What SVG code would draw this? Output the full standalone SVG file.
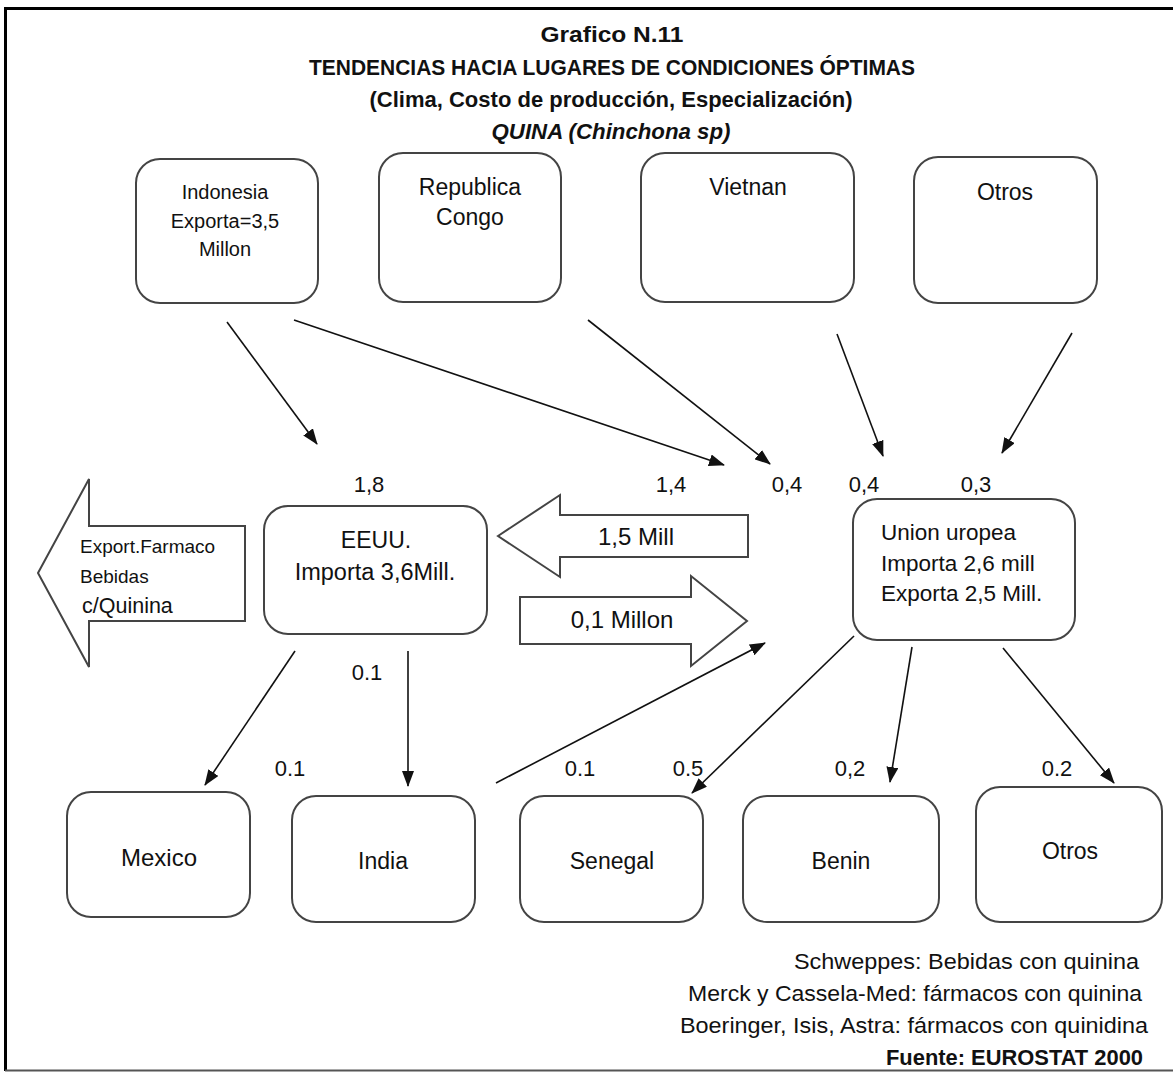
<svg xmlns="http://www.w3.org/2000/svg" width="1173" height="1072" viewBox="0 0 1173 1072">
<defs>
<style>
text{font-family:"Liberation Sans",Arial,sans-serif;fill:#111;}
.t{font-weight:bold;text-anchor:middle;font-size:22px;}
.c{text-anchor:middle;}
.box{fill:#fff;stroke:#444;stroke-width:2;}
.big{fill:#fff;stroke:#444;stroke-width:2;stroke-linejoin:miter;}
.ln{stroke:#111;stroke-width:1.6;fill:none;marker-end:url(#ah);}
.lbl{font-size:22px;text-anchor:middle;}
.n20{font-size:20px;}
.n23{font-size:23px;}
.fn{font-size:22.5px;text-anchor:end;}
</style>
<marker id="ah" viewBox="0 0 16 12" refX="15" refY="6" markerWidth="16" markerHeight="12" markerUnits="userSpaceOnUse" orient="auto">
<path d="M0,0 L16,6 L0,12 z" fill="#111"/>
</marker>
</defs>
<rect x="0" y="0" width="1173" height="1072" fill="#fff"/>
<g id="frame" fill="none">
<line x1="4" y1="8.5" x2="1173" y2="8.5" stroke="#000" stroke-width="3"/>
<line x1="5.5" y1="7" x2="5.5" y2="1071" stroke="#000" stroke-width="3"/>
<line x1="5" y1="1070.5" x2="1173" y2="1070.5" stroke="#555" stroke-width="2"/>
</g>

<g id="title">
<text class="t" x="612" y="42" font-size="24" textLength="143" lengthAdjust="spacingAndGlyphs">Grafico N.11</text>
<text class="t" x="612" y="75" textLength="606" lengthAdjust="spacingAndGlyphs">TENDENCIAS HACIA LUGARES DE CONDICIONES ÓPTIMAS</text>
<text class="t" x="611" y="107" textLength="483" lengthAdjust="spacingAndGlyphs">(Clima, Costo de producción, Especialización)</text>
<text class="t" x="611" y="139" font-style="italic" textLength="239" lengthAdjust="spacingAndGlyphs">QUINA (Chinchona sp)</text>
</g>

<g id="indonesia">
<rect class="box" x="136" y="159" width="182" height="144" rx="24"/>
<text class="c n20" x="225" y="199">Indonesia</text>
<text class="c n20" x="225" y="228">Exporta=3,5</text>
<text class="c n20" x="225" y="256">Millon</text>
</g>
<g id="congo">
<rect class="box" x="379" y="153" width="182" height="149" rx="24"/>
<text class="c n23" x="470" y="195">Republica</text>
<text class="c n23" x="470" y="225">Congo</text>
</g>
<g id="vietnan">
<rect class="box" x="641" y="153" width="213" height="149" rx="24"/>
<text class="c n23" x="748" y="195">Vietnan</text>
</g>
<g id="otros-top">
<rect class="box" x="914" y="157" width="183" height="146" rx="24"/>
<text class="c n23" x="1005" y="200">Otros</text>
</g>

<g id="export">
<polygon class="big" points="38,573 89,479 89,526 245,526 245,621 89,621 89,667"/>
<text x="80" y="553" font-size="19">Export.Farmaco</text>
<text x="80" y="583" font-size="19">Bebidas</text>
<text x="82" y="613" font-size="21.5">c/Quinina</text>
</g>

<g id="eeuu">
<rect class="box" x="264" y="506" width="223" height="128" rx="24"/>
<text class="c n23" x="376" y="548">EEUU.</text>
<text class="c" x="375" y="580" font-size="23.5">Importa 3,6Mill.</text>
</g>

<g id="flow-eu-eeuu">
<polygon class="big" points="498,536 560,495 560,515 748,515 748,557 560,557 560,577"/>
<text class="c" x="636" y="545" font-size="24">1,5 Mill</text>
</g>
<g id="flow-eeuu-eu">
<polygon class="big" points="520,597 691,597 691,576 747,621 691,666 691,644 520,644"/>
<text class="c" x="622" y="628" font-size="24">0,1 Millon</text>
</g>

<g id="ue">
<rect class="box" x="853" y="499" width="222" height="141" rx="24"/>
<text x="881" y="540" font-size="22.5">Union uropea</text>
<text x="881" y="571" font-size="22.5">Importa 2,6 mill</text>
<text x="881" y="601" font-size="22.5">Exporta 2,5 Mill.</text>
</g>

<g id="mexico">
<rect class="box" x="67" y="792" width="183" height="125" rx="24"/>
<text class="c" x="159" y="866" font-size="24">Mexico</text>
</g>
<g id="india">
<rect class="box" x="292" y="796" width="183" height="126" rx="24"/>
<text class="c n23" x="383" y="869">India</text>
</g>
<g id="senegal">
<rect class="box" x="520" y="796" width="183" height="126" rx="24"/>
<text class="c n23" x="612" y="869">Senegal</text>
</g>
<g id="benin">
<rect class="box" x="743" y="796" width="196" height="126" rx="24"/>
<text class="c n23" x="841" y="869">Benin</text>
</g>
<g id="otros-bottom">
<rect class="box" x="976" y="787" width="186" height="135" rx="24"/>
<text class="c n23" x="1070" y="859">Otros</text>
</g>

<g id="connectors">
<line class="ln" x1="227" y1="322" x2="317" y2="444"/>
<line class="ln" x1="294" y1="320" x2="724" y2="465"/>
<line class="ln" x1="588" y1="320" x2="770" y2="464"/>
<line class="ln" x1="837" y1="334" x2="883" y2="456"/>
<line class="ln" x1="1072" y1="333" x2="1002" y2="453"/>
<line class="ln" x1="496" y1="783" x2="765" y2="643"/>
<line class="ln" x1="295" y1="651" x2="205" y2="785"/>
<line class="ln" x1="408" y1="651" x2="408" y2="786"/>
<line class="ln" x1="854" y1="636" x2="692" y2="793"/>
<line class="ln" x1="912" y1="647" x2="890" y2="782"/>
<line class="ln" x1="1003" y1="648" x2="1114" y2="783"/>
</g>

<g id="labels">
<text class="lbl" x="369" y="492">1,8</text>
<text class="lbl" x="671" y="492">1,4</text>
<text class="lbl" x="787" y="492">0,4</text>
<text class="lbl" x="864" y="492">0,4</text>
<text class="lbl" x="976" y="492">0,3</text>
<text class="lbl" x="367" y="680">0.1</text>
<text class="lbl" x="290" y="776">0.1</text>
<text class="lbl" x="580" y="776">0.1</text>
<text class="lbl" x="688" y="776">0.5</text>
<text class="lbl" x="850" y="776">0,2</text>
<text class="lbl" x="1057" y="776">0.2</text>
</g>

<g id="notes">
<text class="fn" x="1139" y="969" textLength="345" lengthAdjust="spacingAndGlyphs">Schweppes: Bebidas con quinina</text>
<text class="fn" x="1142" y="1001" textLength="454" lengthAdjust="spacingAndGlyphs">Merck y Cassela-Med: fármacos con quinina</text>
<text class="fn" x="1148" y="1033" textLength="468" lengthAdjust="spacingAndGlyphs">Boeringer, Isis, Astra: fármacos con quinidina</text>
<text class="fn" x="1143" y="1065" font-weight="bold" font-size="22" textLength="257" lengthAdjust="spacingAndGlyphs">Fuente: EUROSTAT 2000</text>
</g>
</svg>
